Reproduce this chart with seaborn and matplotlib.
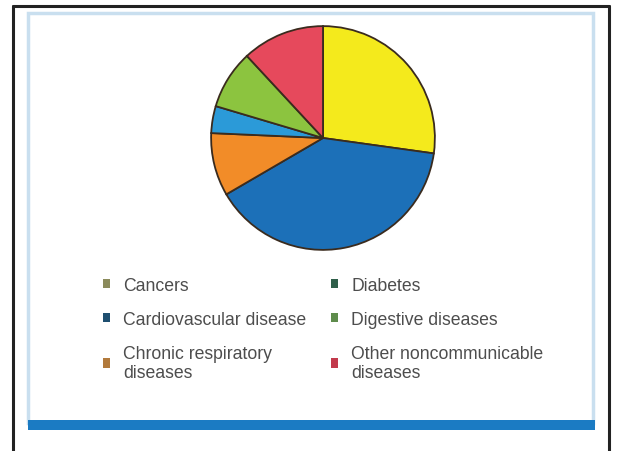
import matplotlib
matplotlib.use("Agg")
import matplotlib.pyplot as plt
from matplotlib.patches import Rectangle, Patch
import seaborn as sns

# Share of deaths by noncommunicable disease group (%)
categories = ["Cancers", "Cardiovascular disease", "Chronic respiratory\ndiseases",
              "Diabetes", "Digestive diseases", "Other noncommunicable\ndiseases"]
shares = [27.2, 39.4, 9.1, 3.9, 8.5, 11.9]
slice_colors = ["#f4ea1c", "#1c70b8", "#f28c28", "#2b9ad8", "#8cc43f", "#e6495c"]
key_colors = ["#8b8b5c", "#1f4f70", "#b27a3c", "#2f5f4a", "#5e8c4c", "#c23a4c"]

sns.set_theme(style="white")
plt.rcParams["font.family"] = ["Liberation Sans", "DejaVu Sans"]

W, H = 617, 452
fig = plt.figure(figsize=(W / 100, H / 100), dpi=100)
fig.patch.set_facecolor("white")


def px_rect(x0, y0, x1, y1, **kw):
    """Rectangle given in pixel coords (origin top-left)."""
    return Rectangle((x0 / W, 1 - y1 / H), (x1 - x0) / W, (y1 - y0) / H,
                     transform=fig.transFigure, **kw)


# outer dark frame (open at the bottom)
fig.add_artist(plt.Line2D([13 / W, 13 / W], [0, 1 - 7 / H], color="#222222",
                          lw=2.2, transform=fig.transFigure))
fig.add_artist(plt.Line2D([13 / W, 609 / W], [1 - 7 / H, 1 - 7 / H], color="#222222",
                          lw=2.2, transform=fig.transFigure))
fig.add_artist(plt.Line2D([609 / W, 609 / W], [0, 1 - 7 / H], color="#222222",
                          lw=2.2, transform=fig.transFigure))

# inner panel outline and bottom rule
fig.add_artist(px_rect(28, 14, 593, 424, fill=False, edgecolor="#c9dfef", lw=2.5))
fig.add_artist(px_rect(28, 421, 595, 431, facecolor="#1b7bc3", edgecolor="none"))

# pie
cx, cy, r = 323, 139, 113
ax = fig.add_axes([(cx - r) / W, 1 - (cy + r) / H, 2 * r / W, 2 * r / H])
ax.pie(shares, colors=slice_colors, startangle=90, counterclock=False,
       wedgeprops=dict(edgecolor="#3a2b1e", linewidth=1.3))
ax.set_xlim(-1.01, 1.01)
ax.set_ylim(-1.01, 1.01)
ax.set_aspect("equal")
ax.axis("off")

# key
handles = [Patch(facecolor=c, edgecolor="none") for c in key_colors]
leg = fig.legend(handles, categories, ncol=2, loc="upper left",
                 bbox_to_anchor=(103 / W, 1 - 278 / H), frameon=False,
                 borderpad=0, borderaxespad=0,
                 fontsize=12.7, handlelength=0.42, handleheight=0.42,
                 handletextpad=0.72, columnspacing=1.4, labelspacing=0.95,
                 labelcolor="#4d4d4d")

fig.savefig("out.png", dpi=100)
